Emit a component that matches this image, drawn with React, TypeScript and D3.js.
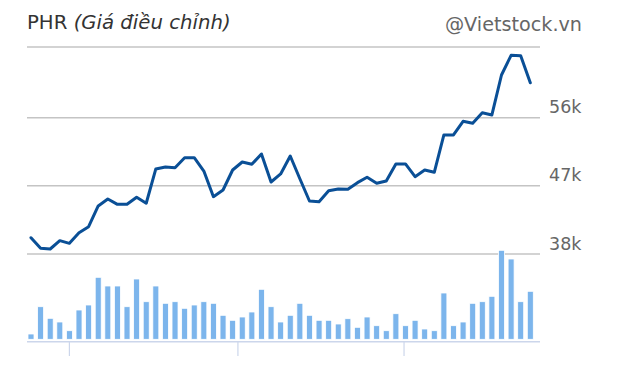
import React from "react";
import * as d3 from "d3";

// Adjusted close price (thousand VND), 53 sessions
const prices = [
  40.15, 38.75, 38.66, 39.76, 39.41, 40.81, 41.61, 44.34, 45.26, 44.56,
  44.56, 45.49, 44.7, 49.23, 49.49, 49.4, 50.72, 50.72, 48.96, 45.57,
  46.45, 49.09, 50.15, 49.85, 51.21, 47.51, 48.57, 50.94, 47.94, 45.0,
  44.91, 46.36, 46.58, 46.54, 47.42, 48.13, 47.34, 47.64, 49.89, 49.89,
  48.21, 49.09, 48.79, 53.72, 53.72, 55.52, 55.26, 56.66, 56.36, 61.64,
  64.24, 64.19, 60.62,
];

// Volume (arbitrary units)
const volumes = [
  53, 326, 210, 173, 86, 293, 343, 620, 533, 533,
  326, 603, 376, 533, 360, 376, 310, 343, 376, 360,
  240, 190, 223, 273, 500, 326, 173, 240, 360, 240,
  190, 190, 153, 206, 120, 223, 136, 86, 256, 136,
  190, 103, 86, 463, 136, 173, 360, 376, 430, 890,
  803, 376, 480,
];

const priceTicks = [38, 47, 56];
const priceTickLabels = ["38k", "47k", "56k"];
const xTickPositions = [4, 21.55, 38.85];

const titleMain = "PHR ";
const titleItalic = "(Giá điều chỉnh)";
const credit = "@Vietstock.vn";

export default function App() {
  const W = 640;
  const H = 375;
  const plotLeft = 27;
  const plotRight = 540;
  const topLineY = 47;

  const x = d3.scaleLinear().domain([0, prices.length - 1]).range([31, 530.3]);
  const y = d3.scaleLinear().domain([38, 56]).range([254, 117.7]);
  const vol = d3.scaleLinear().domain([0, 890]).range([339.3, 250.3]);

  const line = d3
    .line<number>()
    .x((_, i) => x(i))
    .y((d) => y(d));

  const font = "'DejaVu Sans', sans-serif";
  const axisY = 341.7;

  return (
    <svg
      width={W}
      height={H}
      style={{ position: "absolute", left: 0, top: 0, background: "#fff" }}
    >
      <rect x={0} y={0} width={W} height={H} fill="#fff" />
      {/* title */}
      <text x={27} y={29} fontFamily={font} fontSize={19.7} fill="#333">
        {titleMain}
        <tspan fontStyle="italic">{titleItalic}</tspan>
      </text>
      <text
        x={582}
        y={31}
        textAnchor="end"
        fontFamily={font}
        fontSize={19.2}
        fill="#666"
      >
        {credit}
      </text>

      {/* top border line */}
      <line
        x1={plotLeft}
        x2={plotRight}
        y1={topLineY}
        y2={topLineY}
        stroke="#c4c4c4"
        strokeWidth={1.5}
      />
      {/* gridlines + labels */}
      {priceTicks.map((t, i) => (
        <g key={t}>
          <line
            x1={plotLeft}
            x2={plotRight}
            y1={y(t)}
            y2={y(t)}
            stroke="#c4c4c4"
            strokeWidth={1.5}
          />
          <text
            x={549}
            y={y(t) - 4.5}
            fontFamily={font}
            fontSize={17.5}
            fill="#666"
          >
            {priceTickLabels[i]}
          </text>
        </g>
      ))}

      {/* volume bars */}
      {volumes.map((v, i) => (
        <rect
          key={i}
          x={x(i) - 3}
          y={vol(v)}
          width={6}
          height={vol(0) - vol(v)}
          fill="#7cb5ec"
          stroke="#ffffff"
          strokeWidth={0.8}
        />
      ))}

      {/* x axis */}
      <line
        x1={plotLeft}
        x2={plotRight}
        y1={axisY}
        y2={axisY}
        stroke="#ccd6eb"
        strokeWidth={1.5}
      />
      {xTickPositions.map((p, i) => (
        <line
          key={i}
          x1={x(p)}
          x2={x(p)}
          y1={axisY}
          y2={356}
          stroke="#ccd6eb"
          strokeWidth={1.2}
        />
      ))}

      {/* price line */}
      <path
        d={line(prices) || ""}
        fill="none"
        stroke="#0a4f96"
        strokeWidth={3}
        strokeLinejoin="round"
        strokeLinecap="round"
      />
    </svg>
  );
}
